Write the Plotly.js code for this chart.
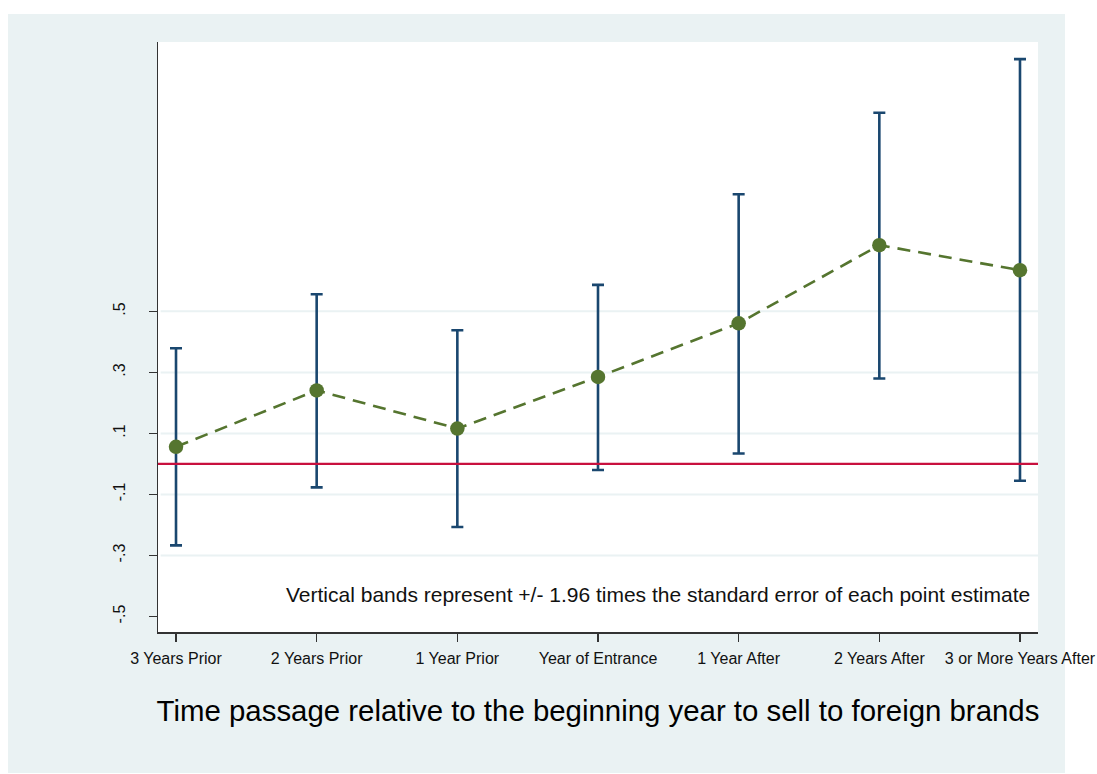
<!DOCTYPE html>
<html>
<head>
<meta charset="utf-8">
<script src="https://cdn.plot.ly/plotly-3.0.1.min.js"></script>
<style>
  html, body { margin: 0; padding: 0; background: #ffffff; width: 1097px; height: 774px; overflow: hidden; }
  #bgpanel { position: absolute; left: 8px; top: 14px; width: 1057px; height: 759px; background: #eaf2f3; }
  #chart { position: absolute; left: 0; top: 0; width: 1097px; height: 774px; }
</style>
</head>
<body>
<div id="bgpanel"></div>
<div id="chart"></div>
<script>
// Data
const categories = ["3 Years Prior", "2 Years Prior", "1 Year Prior", "Year of Entrance", "1 Year After", "2 Years After", "3 or More Years After"];
const estimates = [0.056, 0.241, 0.116, 0.285, 0.461, 0.717, 0.635];
const upperBound = [0.379, 0.556, 0.438, 0.587, 0.884, 1.151, 1.327];
const lowerBound = [-0.267, -0.077, -0.207, -0.020, 0.034, 0.280, -0.055];
const yTickVals = [-0.5, -0.3, -0.1, 0.1, 0.3, 0.5];
const yTickText = ["-.5", "-.3", "-.1", ".1", ".3", ".5"];
const gridVals = [-0.3, -0.1, 0.1, 0.3, 0.5];
const referenceY = 0;
const noteText = "Vertical bands represent +/- 1.96 times the standard error of each point estimate";
const xTitle = "Time passage relative to the beginning year to sell to foreign brands";

const errPlus = upperBound.map((u, i) => u - estimates[i]);
const errMinus = lowerBound.map((l, i) => estimates[i] - l);

const navy = "#1a476f";
const green = "#55752f";
const bg = "#eaf2f3";

const traces = [
  {
    type: "scatter",
    mode: "markers",
    x: categories,
    y: estimates,
    marker: { size: 0.1, color: "rgba(0,0,0,0)" },
    error_y: {
      type: "data", symmetric: false,
      array: errPlus, arrayminus: errMinus,
      color: navy, thickness: 2.6, width: 6
    },
    hoverinfo: "skip",
    showlegend: false
  },
  {
    type: "scatter",
    mode: "lines+markers",
    x: categories,
    y: estimates,
    line: { color: green, width: 2.6, dash: "13px,8px" },
    marker: { color: green, size: 14.5 },
    showlegend: false
  }
];

const shapes = gridVals.map(v => ({
  type: "line", xref: "paper", yref: "y", x0: 0.003, x1: 1, y0: v, y1: v,
  line: { color: bg, width: 2 }, layer: "below"
}));
shapes.push({
  type: "line", xref: "paper", yref: "y", x0: 0, x1: 1, y0: referenceY, y1: referenceY,
  line: { color: "#c8103e", width: 2.2 }, layer: "above"
});

const layout = {
  width: 1097,
  height: 774,
  margin: { l: 158, r: 59, t: 42, b: 142 },
  paper_bgcolor: "rgba(0,0,0,0)",
  plot_bgcolor: "#ffffff",
  font: { family: "Liberation Sans, Arial, sans-serif", color: "#111111" },
  showlegend: false,
  xaxis: {
    type: "category",
    range: [-0.128, 6.128],
    showgrid: false,
    zeroline: false,
    showline: true,
    linecolor: "#333333",
    linewidth: 1.5,
    ticks: "outside",
    ticklen: 8,
    tickwidth: 1.5,
    tickcolor: "#333333",
    tickfont: { size: 16, color: "#111111" },
    ticklabelstandoff: 3,
    title: { text: xTitle, font: { size: 29.4, color: "#000000" }, standoff: 34 },
    automargin: false
  },
  yaxis: {
    range: [-0.551, 1.383],
    tickvals: yTickVals,
    ticktext: yTickText,
    tickangle: -90,
    showgrid: false,
    zeroline: false,
    showline: true,
    linecolor: "#333333",
    linewidth: 1.5,
    ticks: "outside",
    ticklen: 8,
    tickwidth: 1.5,
    tickcolor: "#333333",
    tickfont: { size: 16, color: "#111111" },
    ticklabelstandoff: 17,
    automargin: false
  },
  shapes: shapes,
  annotations: [{
    xref: "paper", yref: "paper", x: 1, y: 0.063,
    xanchor: "right", yanchor: "middle", xshift: -6,
    text: noteText, showarrow: false,
    font: { size: 21, color: "#111111" }
  }]
};

Plotly.newPlot("chart", traces, layout, { displayModeBar: false, staticPlot: true });
</script>
</body>
</html>
